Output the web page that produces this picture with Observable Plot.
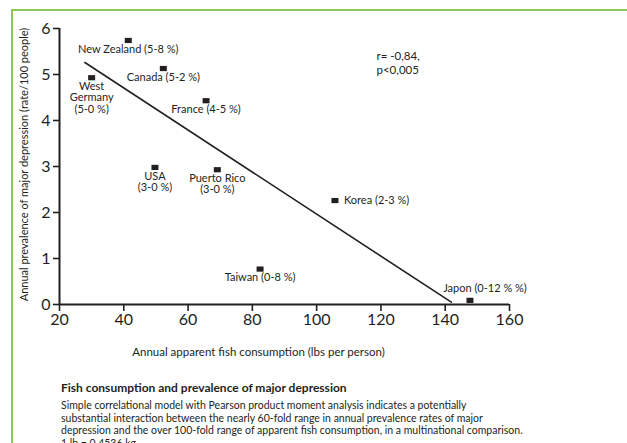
<!DOCTYPE html>
<html>
<head>
<meta charset="utf-8">
<script src="https://cdn.jsdelivr.net/npm/d3@7"></script>
<script src="https://cdn.jsdelivr.net/npm/@observablehq/plot@0.6"></script>
<style>
  html, body { margin: 0; padding: 0; background: #fff; overflow: hidden; }
  #wrap { position: relative; width: 627px; height: 443px; overflow: hidden; font-family: Lato, "Open Sans", sans-serif; color: #231f20; }
  .gl { position: absolute; background: #8cc85a; }
  #chart { position: absolute; left: 0; top: 0; }
  #caption { position: absolute; left: 61px; top: 380px; width: 566px; }
  #caption .t { font-weight: bold; font-size: 12px; line-height: 15px; margin-bottom: 4px; }
  #caption .b { font-size: 10.5px; line-height: 12.5px; white-space: nowrap; }
</style>
</head>
<body>
<div id="wrap">
  <div class="gl" style="left:11px; top:9px; width:616px; height:2px;"></div>
  <div class="gl" style="left:11px; top:9px; width:2px; height:434px;"></div>
  <div id="chart"></div>
  <div id="caption">
    <div class="t">Fish consumption and prevalence of major depression</div>
    <div class="b">Simple correlational model with Pearson product moment analysis indicates a potentially<br>substantial interaction between the nearly 60-fold range in annual prevalence rates of major<br>depression and the over 100-fold range of apparent fish consumption, in a multinational comparison.<br>1 lb = 0.4536 kg</div>
  </div>
</div>
<script>
// Data
const labels = ["New Zealand (5-8 %)", "Canada (5-2 %)", "West\nGermany\n(5-0 %)", "France (4-5 %)", "USA\n(3-0 %)", "Puerto Rico\n(3-0 %)", "Taiwan (0-8 %)", "Korea (2-3 %)", "Japon (0-12 % %)"];
const fish = [41.4, 52.3, 30.0, 65.6, 49.7, 69.1, 82.4, 105.7, 147.7];
const depression = [5.74, 5.13, 4.93, 4.43, 2.98, 2.93, 0.77, 2.26, 0.09];
const labelSide = ["below", "below", "below", "below", "below", "below", "below", "right", "above"];
// Regression line end points (as drawn)
const fitFish = [27.9, 141.9];
const fitDepression = [5.26, 0.05];
// Ticks
const xTicks = [20, 40, 60, 80, 100, 120, 140, 160];
const yTicks = [0, 1, 2, 3, 4, 5, 6];
const xLabel = "Annual apparent fish consumption (lbs per person)";
const yLabel = "Annual prevalence of major depression (rate/100 people)";
const statsText = "r= -0,84,\np<0,005";

const data = labels.map((l, i) => ({label: l, fish: fish[i], dep: depression[i], side: labelSide[i]}));
const fit = fitFish.map((f, i) => ({fish: f, dep: fitDepression[i]}));

const rectSymbol = {
  draw(context) { context.rect(-3.5, -2.6, 7, 5.2); }
};

const ink = "#231f20";

const chart = Plot.plot({
  width: 627,
  height: 375,
  marginLeft: 59,
  marginRight: 118,
  marginTop: 28,
  marginBottom: 71,
  style: {fontFamily: "Lato, 'Open Sans', sans-serif", color: ink, background: "transparent"},
  x: {domain: [20, 160]},
  y: {domain: [0, 6]},
  marks: [
    Plot.axisX({ticks: xTicks, tickFormat: d => String(d), tickSize: 7, tickPadding: 2, fontSize: 16, label: null, strokeWidth: 1.6, stroke: ink, fill: ink}),
    Plot.axisY({ticks: yTicks, tickFormat: d => String(d), tickSize: 6, tickPadding: 3, fontSize: 16, label: null, strokeWidth: 1.6, stroke: ink, fill: ink}),
    Plot.ruleY([0], {stroke: ink, strokeWidth: 2}),
    Plot.ruleX([20], {stroke: ink, strokeWidth: 2}),
    Plot.line(fit, {x: "fish", y: "dep", stroke: ink, strokeWidth: 1.6}),
    Plot.dot(data, {x: "fish", y: "dep", symbol: rectSymbol, fill: ink, stroke: null}),
    Plot.text(data, {filter: d => d.side === "below", x: "fish", y: "dep", text: "label", dy: 4, lineAnchor: "top", fontSize: 11, lineHeight: 1.05, fill: ink}),
    Plot.text(data, {filter: d => d.side === "right", x: "fish", y: "dep", text: "label", dx: 9, textAnchor: "start", fontSize: 11, fill: ink}),
    Plot.text(data, {filter: d => d.side === "above", x: "fish", y: "dep", text: "label", dx: 15, dy: -8, lineAnchor: "bottom", fontSize: 11, fill: ink}),
    Plot.text([statsText], {frameAnchor: "top-left", dx: 317, dy: 22, textAnchor: "start", lineAnchor: "top", fontSize: 11.5, lineHeight: 1.22, fill: ink}),
    Plot.text([yLabel], {frameAnchor: "left", textAnchor: "middle", lineAnchor: "middle", rotate: -90, dx: -35, dy: -2, fontSize: 11, fill: ink}),
    Plot.text([xLabel], {frameAnchor: "bottom", textAnchor: "middle", dx: -26, dy: 48, lineAnchor: "middle", fontSize: 11.5, fill: ink})
  ]
});
document.getElementById("chart").appendChild(chart);
</script>
</body>
</html>
